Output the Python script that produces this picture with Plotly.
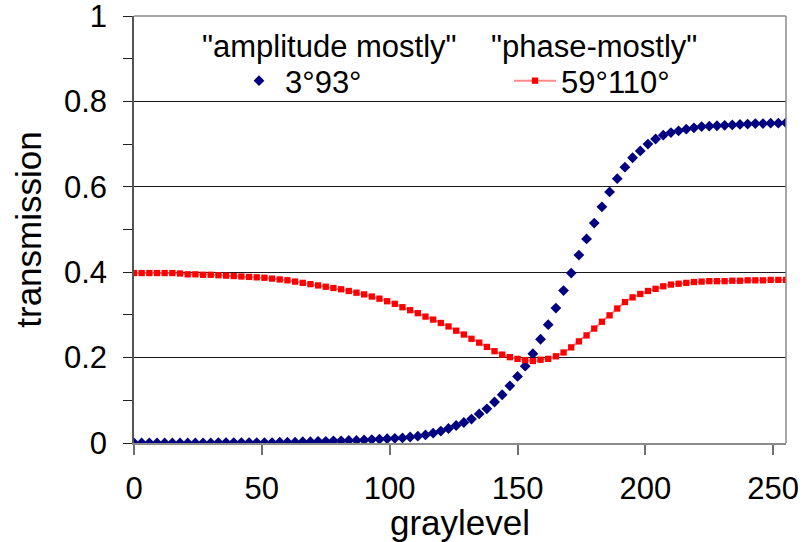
import plotly.graph_objects as go

graylevel = list(range(0, 256, 3))

amplitude_mostly = [
    0.000, 0.000, 0.000, 0.000, 0.000, 0.000, 0.000, 0.000, 0.000, 0.000,
    0.000, 0.001, 0.001, 0.001, 0.001, 0.001, 0.001, 0.001, 0.001, 0.002,
    0.002, 0.002, 0.003, 0.003, 0.004, 0.004, 0.005, 0.005, 0.006, 0.006,
    0.007, 0.008, 0.009, 0.010, 0.011, 0.012, 0.014, 0.016, 0.019, 0.023,
    0.028, 0.034, 0.041, 0.048, 0.056, 0.068, 0.080, 0.096, 0.113, 0.134,
    0.156, 0.180, 0.209, 0.243, 0.277, 0.316, 0.357, 0.398, 0.440, 0.478,
    0.515, 0.553, 0.588, 0.619, 0.646, 0.668, 0.684, 0.700, 0.712, 0.721,
    0.727, 0.731, 0.735, 0.738, 0.741, 0.742, 0.743, 0.744, 0.745, 0.746,
    0.747, 0.748, 0.748, 0.749, 0.749, 0.750,
]

phase_mostly = [
    0.398, 0.398, 0.398, 0.398, 0.398, 0.398, 0.397, 0.395, 0.395, 0.394,
    0.394, 0.393, 0.392, 0.391, 0.390, 0.389, 0.388, 0.387, 0.385, 0.383,
    0.381, 0.378, 0.375, 0.372, 0.369, 0.366, 0.363, 0.360, 0.356, 0.352,
    0.348, 0.343, 0.338, 0.332, 0.326, 0.318, 0.311, 0.304, 0.296, 0.289,
    0.281, 0.273, 0.263, 0.254, 0.244, 0.235, 0.225, 0.215, 0.207, 0.201,
    0.197, 0.194, 0.192, 0.195, 0.197, 0.203, 0.212, 0.224, 0.238, 0.252,
    0.268, 0.284, 0.299, 0.315, 0.330, 0.341, 0.349, 0.356, 0.361, 0.367,
    0.371, 0.373, 0.375, 0.377, 0.378, 0.379, 0.379, 0.379, 0.380, 0.380,
    0.381, 0.381, 0.381, 0.382, 0.382, 0.382,
]

y_tick_values = [0, 0.2, 0.4, 0.6, 0.8, 1]
y_tick_labels = ["0", "0.2", "0.4", "0.6", "0.8", "1"]
x_tick_values = [0, 50, 100, 150, 200, 250]
x_tick_labels = ["0", "50", "100", "150", "200", "250"]

series_names = ["3°93°", "59°110°"]
series_headers = ['"amplitude mostly"', '"phase-mostly"']
x_title = "graylevel"
y_title = "transmission"

FONT = "Liberation Sans, Arial, sans-serif"

fig = go.Figure()
fig.add_trace(go.Scatter(
    x=graylevel, y=amplitude_mostly, name=series_names[0], mode="markers",
    marker=dict(symbol="diamond", size=8.3, color="#000080"),
    legend="legend",
))
fig.add_trace(go.Scatter(
    x=graylevel, y=phase_mostly, name=series_names[1], mode="lines+markers",
    line=dict(color="#ff8a8a", width=2),
    marker=dict(symbol="square", size=6.3, color="#ff0000"),
    legend="legend2",
))

L, R, T, B = 134, 17, 16, 99
W, H = 803, 542
pw, ph = W - L - R, H - T - B


def px2paper(px, py):
    return (px - L) / pw, (H - B - py) / ph


lx1, ly1 = px2paper(233, 81)
lx2, ly2 = px2paper(509, 81)
hx1, hy1 = px2paper(329, 47)
hx2, hy2 = px2paper(594, 47)

legend_common = dict(
    orientation="h", xanchor="left", yanchor="middle",
    bgcolor="rgba(0,0,0,0)", borderwidth=0, itemwidth=42,
    font=dict(family=FONT, size=31, color="black"),
)

fig.update_layout(
    width=W, height=H,
    margin=dict(l=L, r=R, t=T, b=B, pad=0, autoexpand=False),
    paper_bgcolor="white", plot_bgcolor="white",
    font=dict(family=FONT, size=31, color="black"),
    showlegend=True,
    legend=dict(x=lx1, y=ly1, **legend_common),
    legend2=dict(x=lx2, y=ly2, **legend_common),
    xaxis=dict(
        range=[0, 255], tickvals=x_tick_values, ticktext=x_tick_labels,
        showgrid=False, zeroline=False, automargin=False,
        showline=True, linecolor="#8a8a8a", linewidth=1.5,
        ticks="outside", ticklen=10, tickcolor="#707070", tickwidth=1.5,
        ticklabelstandoff=7, ticklabeloverflow="allow",
        tickfont=dict(family=FONT, size=31, color="black"),
        title=dict(text=x_title, font=dict(family=FONT, size=35, color="black"), standoff=0),
    ),
    yaxis=dict(
        range=[0, 1], tickvals=y_tick_values, ticktext=y_tick_labels,
        showgrid=True, gridcolor="#1a1a1a", gridwidth=1,
        zeroline=False, showline=True, linecolor="#555555", linewidth=1.5, automargin=False,
        ticks="outside", ticklen=9, tickcolor="#222222", tickwidth=1.2,
        ticklabelstandoff=10, ticklabeloverflow="allow",
        minor=dict(dtick=0.1, tick0=0, ticks="outside", ticklen=9, tickcolor="#222222", tickwidth=1.2, showgrid=False),
        tickfont=dict(family=FONT, size=31, color="black"),
        title=dict(text=y_title, font=dict(family=FONT, size=35, color="black"), standoff=12),
    ),
    annotations=[
        dict(text=series_headers[0], x=hx1, y=hy1, xref="paper", yref="paper",
             xanchor="center", yanchor="middle", showarrow=False,
             font=dict(family=FONT, size=31, color="black")),
        dict(text=series_headers[1], x=hx2, y=hy2, xref="paper", yref="paper",
             xanchor="center", yanchor="middle", showarrow=False,
             font=dict(family=FONT, size=31, color="black")),
    ],
    shapes=[
        dict(type="line", xref="paper", yref="paper", x0=0, x1=1, y0=1, y1=1,
             line=dict(color="#8a8a8a", width=1.5), layer="above"),
        dict(type="line", xref="paper", yref="paper", x0=1, x1=1, y0=0, y1=1,
             line=dict(color="#8a8a8a", width=1.5), layer="above"),
    ],
)

fig.write_html("out.html")
